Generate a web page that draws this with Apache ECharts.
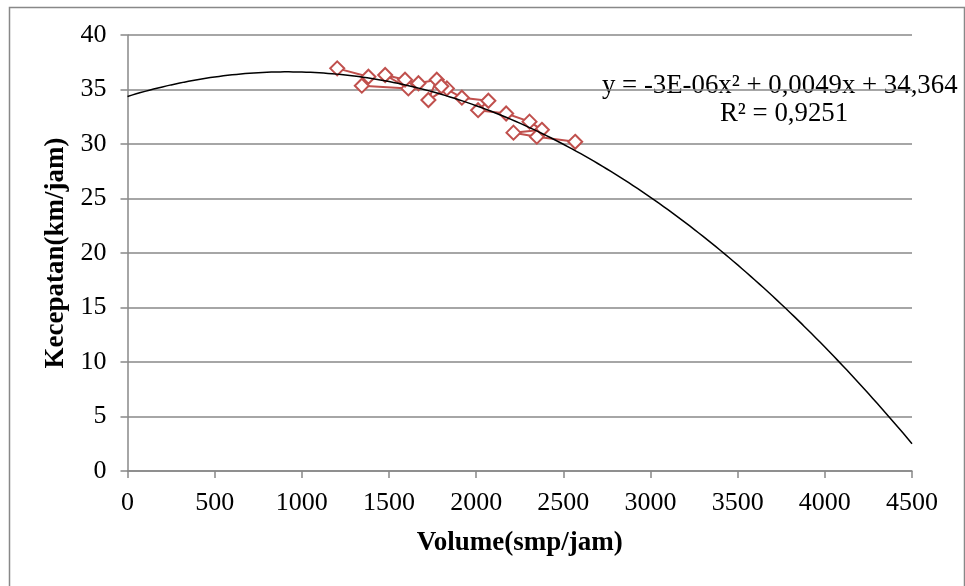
<!DOCTYPE html>
<html><head><meta charset="utf-8">
<script src="https://cdn.jsdelivr.net/npm/echarts@6/dist/echarts.min.js"></script>
<style>html,body{margin:0;padding:0;background:#fff}#c{width:965px;height:586px}</style>
</head><body><div id="c"></div>
<script>
// Observed data (Volume smp/jam, Kecepatan km/jam), in plotted order
const volume = [1203,1382,1344,1611,1478,1592,1669,1774,1726,1832,1800,1918,2070,2011,2172,2306,2377,2214,2348,2568];
const speed  = [36.94,36.17,35.35,35.1,36.33,35.9,35.57,35.9,34.04,35.1,35.3,34.25,33.97,33.1,32.8,32.05,31.3,31.04,30.67,30.2];
// Polynomial trendline coefficients (a*x^2 + b*x + c), from the chart label
const trendCoeffs = [-2.662e-6, 0.0049, 34.364];
const trendX = [0, 4500];
const xTicks = [0,500,1000,1500,2000,2500,3000,3500,4000,4500];
const yTicks = [0,5,10,15,20,25,30,35,40];
const eqText = 'y = -3E-06x² + 0,0049x + 34,364';
const r2Text = 'R² = 0,9251';

const pts = volume.map((v,i)=>[v,speed[i]]);
const trend = [];
for (let x = trendX[0]; x <= trendX[1]; x += 25) {
  trend.push([x, trendCoeffs[0]*x*x + trendCoeffs[1]*x + trendCoeffs[2]]);
}
const font = '"Liberation Serif","Times New Roman",serif';
const chart = echarts.init(document.getElementById('c'));
chart.setOption({
  animation:false,
  backgroundColor:'#fff',
  grid:{left:127.5,right:53,top:35,bottom:115},
  xAxis:{type:'value',min:xTicks[0],max:xTicks[xTicks.length-1],interval:xTicks[1]-xTicks[0],
    name:'Volume(smp/jam)',nameLocation:'middle',nameGap:72,
    nameTextStyle:{fontFamily:font,fontSize:27,fontWeight:'bold',color:'#000',verticalAlign:'middle'},
    axisLine:{lineStyle:{color:'#888',width:1.5}},
    axisTick:{show:true,length:7,lineStyle:{color:'#888',width:1.5}},
    axisLabel:{fontFamily:font,fontSize:26,color:'#000',margin:19,formatter:v=>String(v)},
    splitLine:{show:false}},
  yAxis:{type:'value',min:yTicks[0],max:yTicks[yTicks.length-1],interval:yTicks[1]-yTicks[0],
    name:'Kecepatan(km/jam)',nameLocation:'middle',nameGap:64,nameRotate:90,
    nameTextStyle:{fontFamily:font,fontSize:27,fontWeight:'bold',color:'#000',verticalAlign:'middle'},
    axisLine:{show:true,lineStyle:{color:'#888',width:1.5}},
    axisTick:{show:true,length:7,lineStyle:{color:'#888',width:1.5}},
    axisLabel:{fontFamily:font,fontSize:26,color:'#000',margin:21,formatter:v=>String(v)},
    splitLine:{show:true,lineStyle:{color:'#888',width:1.5}}},
  graphic:[
    {type:'rect',left:7,top:5,shape:{width:955,height:600},style:{fill:'none',stroke:'#888',lineWidth:1.5},silent:true,z:-1},
    {type:'text',left:602,top:72,style:{text:eqText,font:'26.8px '+font,fill:'#000'}},
    {type:'text',left:720,top:100,style:{text:r2Text,font:'26.8px '+font,fill:'#000'}}
  ],
  series:[
    {type:'line',data:trend,showSymbol:false,symbol:'none',smooth:false,
     lineStyle:{color:'#000',width:1.5},z:3},
    {type:'line',data:pts,symbol:'emptyDiamond',symbolSize:14,
     itemStyle:{color:'#C0504D',borderColor:'#C0504D',borderWidth:2},
     lineStyle:{color:'#C0504D',width:2},z:2}
  ]
});
</script></body></html>
